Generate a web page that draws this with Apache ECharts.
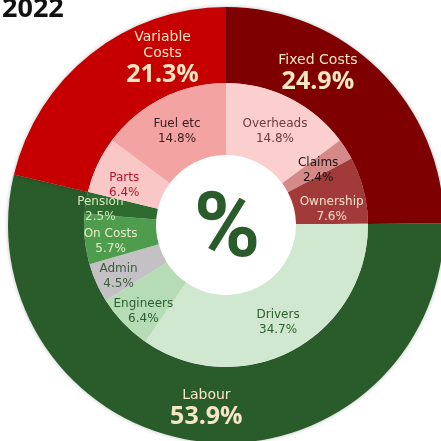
<!DOCTYPE html>
<html>
<head>
<meta charset="utf-8">
<script src="https://cdn.jsdelivr.net/npm/echarts@6/dist/echarts.min.js"></script>
<style>
html,body{margin:0;padding:0;background:#fff;}
#chart{width:441px;height:441px;}
</style>
</head>
<body>
<div id="chart"></div>
<script>
// ---- data ----
const titleText = '2022';
const centerText = '%';

const outerNames = ['Fixed Costs', 'Labour', 'Variable Costs'];
const outerValues = [24.9, 53.9, 21.3];
const outerLabelLines = [['Fixed Costs'], ['Labour'], ['Variable', 'Costs']];

const innerNames = ['Overheads', 'Claims', 'Ownership', 'Drivers', 'Engineers', 'Admin', 'On Costs', 'Pension', 'Parts', 'Fuel etc'];
const innerValues = [14.8, 2.4, 7.6, 34.7, 6.4, 4.5, 5.7, 2.5, 6.4, 14.8];

// ---- styles ----
const outerColors = ['#7E0000', '#2A5C2B', '#C60000'];
const innerColors = ['#FCCFCF', '#D68989', '#A33A3A', '#CFE8CF', '#B5DCB5', '#C3C1C3', '#4E9C4E', '#2E6B2F', '#FAC7C7', '#F4A3A3'];
const innerLabelColors = ['#6B3B3B', '#1E1414', '#F5E2C8', '#2E5E2E', '#2E5E2E', '#3E5A3E', '#E6EFC8', '#D6E8C0', '#B3142C', '#3A2020'];
const outerLabelColor = '#F5E6C4';
const outerOffsets = [[-37, -21], [1, 2], [50, -23]];
const innerOffsets = [[0, 4], [0, 4], [0, 11], [1, 1], [-4, 11], [-8, 7], [-7, 5], [-18, 1], [-3, 7], [0, 4]];

const FONT = 'Open Sans';
const FONT2 = 'DejaVu Sans';
const chart = echarts.init(document.getElementById('chart'), null, {renderer: 'canvas'});

const fmt = v => v.toFixed(1) + '%';

const option = {
  animation: false,
  backgroundColor: '#ffffff',
  title: {
    text: titleText,
    left: -3,
    top: -9,
    textStyle: {fontFamily: FONT, fontSize: 27, fontWeight: 'bold', color: '#111111'}
  },
  graphic: [{
    type: 'text',
    x: 227, y: 233,
    style: {
      text: centerText,
      align: 'center', verticalAlign: 'middle',
      fontFamily: 'Roboto', fontSize: 90, fontWeight: 'bold',
      fill: '#2A5C2B'
    },
    z: 100
  }],
  series: [
    {
      type: 'pie',
      center: [226, 225],
      radius: [142, 218],
      startAngle: 90,
      clockwise: true,
      silent: true,
      itemStyle: {borderWidth: 0, shadowBlur: 4, shadowColor: 'rgba(0,0,0,0.25)'},
      emphasis: {disabled: true},
      label: {
        show: true,
        position: 'inside',
        rotate: 0,
        formatter: p => {
          const lines = outerLabelLines[p.dataIndex].map(s => '{n|' + s + '}');
          return lines.join('\n') + '\n{v|' + fmt(p.value) + '}';
        },
        rich: {
          n: {fontFamily: FONT2, fontSize: 14, color: outerLabelColor, lineHeight: 16, align: 'center'},
          v: {fontFamily: FONT, fontSize: 25, fontWeight: 'bold', color: outerLabelColor, lineHeight: 27, align: 'center'}
        }
      },
      labelLine: {show: false},
      labelLayout: p => ({dx: outerOffsets[p.dataIndex][0], dy: outerOffsets[p.dataIndex][1]}),
      data: outerNames.map((n, i) => ({name: n, value: outerValues[i], itemStyle: {color: outerColors[i]}}))
    },
    {
      type: 'pie',
      center: [226, 225],
      radius: [70, 142],
      startAngle: 90,
      clockwise: true,
      silent: true,
      itemStyle: {borderWidth: 0},
      emphasis: {disabled: true},
      label: {
        show: true,
        position: 'inside',
        rotate: 0,
        fontFamily: FONT2,
        fontSize: 12,
        lineHeight: 15,
        formatter: p => p.name + '\n' + fmt(p.value)
      },
      labelLine: {show: false},
      labelLayout: p => ({dx: innerOffsets[p.dataIndex][0], dy: innerOffsets[p.dataIndex][1]}),
      data: innerNames.map((n, i) => ({
        name: n, value: innerValues[i],
        itemStyle: {color: innerColors[i]},
        label: {color: innerLabelColors[i]}
      }))
    }
  ]
};
chart.setOption(option);
</script>
</body>
</html>
